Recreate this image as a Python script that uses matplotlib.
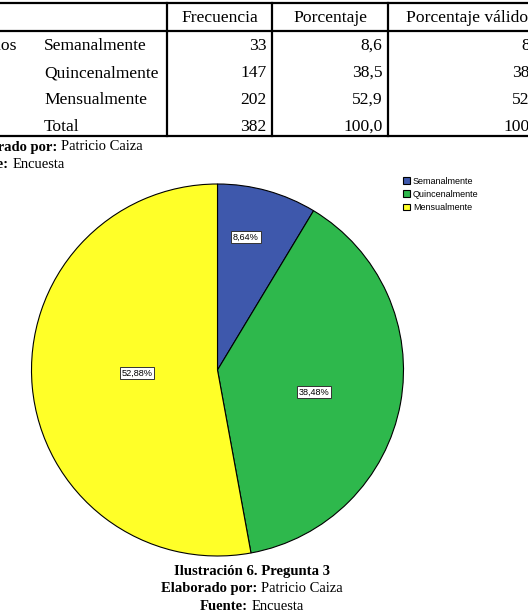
import matplotlib
matplotlib.use("Agg")
import matplotlib.pyplot as plt

# data
categorias = ["Semanalmente", "Quincenalmente", "Mensualmente"]
frecuencia = [33, 147, 202]
porcentaje = [8.6, 38.5, 52.9]
porcentaje_valido = [8.6, 38.5, 52.9]
total_frec = 382
total_pct = 100.0
colores = ["#3e58ac", "#2eb84c", "#ffff28"]


def coma(v, d=1):
    return "{:.{}f}".format(v, d).replace(".", ",")


fig = plt.figure(figsize=(5.28, 6.13), dpi=100)
ax = fig.add_axes([0, 0, 1, 1])
ax.set_xlim(0, 528)
ax.set_ylim(613, 0)

serif = "Liberation Serif"
sans = "Liberation Sans"
renderer = fig.canvas.get_renderer()


def text_width(s, size, weight="normal"):
    t = ax.text(0, 0, s, fontsize=size, family=serif, weight=weight)
    w = t.get_window_extent(renderer).width
    t.remove()
    return w


def bold_normal(x, y, bold, normal, size, align="right"):
    # bold part then normal part, x is where the bold part ends (align right)
    # or the centre of the whole line (align center)
    gap = text_width("a a", size) - text_width("aa", size)
    wb = text_width(bold, size, "bold")
    wn = text_width(normal, size)
    if align == "center":
        x = x - (wb + gap + wn) / 2 + wb
    ax.text(x, y, bold, ha="right", va="center", fontsize=size, family=serif, weight="bold")
    ax.text(x + gap, y, normal, ha="left", va="center", fontsize=size, family=serif)


# --- table ---
ax.plot([0, 528], [2.5, 2.5], color="black", lw=1.6)
ax.plot([0, 528], [30.5, 30.5], color="black", lw=1.6)
ax.plot([0, 528], [136, 136], color="black", lw=1.6)
for x in [167, 272, 388]:
    ax.plot([x, x], [2.5, 136], color="black", lw=1.6)

fs_tab = 12.6
ax.text(219.5, 18, "Frecuencia", ha="center", va="center", fontsize=fs_tab, family=serif)
ax.text(330, 18, "Porcentaje", ha="center", va="center", fontsize=fs_tab, family=serif)
ax.text(406, 18, "Porcentaje válido", ha="left", va="center", fontsize=fs_tab, family=serif, clip_on=True)

filas = categorias + ["Total"]
col1 = frecuencia + [total_frec]
col2 = porcentaje + [total_pct]
col3 = porcentaje_valido + [total_pct]
ys = [46, 73, 100, 127]
ax.text(17, ys[0], "Válidos", ha="right", va="center", fontsize=fs_tab, family=serif, clip_on=True)
for i, y in enumerate(ys):
    ax.text(44, y, filas[i], ha="left", va="center", fontsize=fs_tab, family=serif)
    ax.text(266.5, y, str(col1[i]), ha="right", va="center", fontsize=fs_tab, family=serif)
    ax.text(382.5, y, coma(col2[i]), ha="right", va="center", fontsize=fs_tab, family=serif)
    ax.text(543, y, coma(col3[i]), ha="right", va="center", fontsize=fs_tab, family=serif, clip_on=True)

fs_note = 10.5
bold_normal(57, 147, "Elaborado por:", "Patricio Caiza", fs_note)
bold_normal(8.5, 165, "Fuente:", "Encuesta", fs_note)

# --- pie ---
wedges, _ = ax.pie(frecuencia, colors=colores, startangle=-90, counterclock=True,
                   center=(217.5, 370), radius=186,
                   wedgeprops=dict(edgecolor="black", linewidth=0.8))

pct = [100.0 * f / total_frec for f in frecuencia]
label_xy = [(246, 237), (314, 392), (137, 373)]
for p, (lx, ly) in zip(pct, label_xy):
    ax.text(lx, ly, coma(p, 2) + "%", ha="center", va="center", fontsize=6.6, family=sans,
            bbox=dict(boxstyle="square,pad=0.2", facecolor="white", edgecolor="#333333", linewidth=0.7))

leg = ax.legend(wedges, categorias, loc="upper left", bbox_to_anchor=(403 / 528, 1 - 177 / 613),
                frameon=False, prop={"family": sans, "size": 6.5},
                handlelength=0.8, handleheight=0.8, handletextpad=0.3, labelspacing=0.45,
                borderpad=0, borderaxespad=0)

# --- caption ---
ax.text(252, 571, "Ilustración 6. Pregunta 3", ha="center", va="center", fontsize=10.6,
        family=serif, weight="bold")
bold_normal(252, 588.5, "Elaborado por:", "Patricio Caiza", fs_note, align="center")
bold_normal(252, 606.5, "Fuente:", "Encuesta", fs_note, align="center")

ax.set_xlim(0, 528)
ax.set_ylim(613, 0)
ax.set_aspect("auto")
ax.axis("off")

fig.savefig("out.png", dpi=100)
